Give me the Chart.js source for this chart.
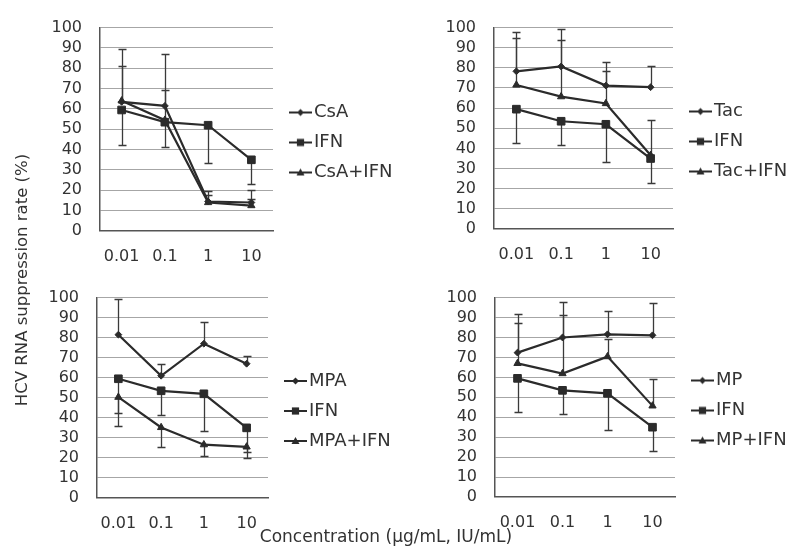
<!DOCTYPE html>
<html>
<head>
<meta charset="utf-8">
<script src="https://cdn.jsdelivr.net/npm/chart.js@4.4.1/dist/chart.umd.min.js"></script>
<style>
  html, body { margin: 0; padding: 0; background: #fff; }
  #wrap { position: relative; width: 798px; height: 549px; background: #fff; overflow: hidden; }
  canvas { position: absolute; }
  .title { position: absolute; font-family: "DejaVu Sans", sans-serif; color: #333; white-space: nowrap; text-align: center; }
</style>
</head>
<body>
<div id="wrap">
  <canvas id="c1" width="400" height="270" style="left:0;top:0;width:400px;height:270px"></canvas>
  <canvas id="c2" width="398" height="270" style="left:400px;top:0;width:398px;height:270px"></canvas>
  <canvas id="c3" width="400" height="279" style="left:0;top:270px;width:400px;height:279px"></canvas>
  <canvas id="c4" width="398" height="279" style="left:400px;top:270px;width:398px;height:279px"></canvas>
  <div class="title" id="ytitle" style="left:-128px;top:270px;width:300px;line-height:20px;font-size:16.5px;transform:rotate(-90deg);transform-origin:center center;">HCV RNA suppression rate (%)</div>
  <div class="title" id="xtitle" style="left:236px;top:526px;width:300px;line-height:20px;font-size:17px;">Concentration (µg/mL, IU/mL)</div>
</div>
<script>
// ---- data ----
const categories = ['0.01', '0.1', '1', '10'];

const ifnValues = [59.5, 53.5, 52, 35];
const ifnErrors = [17, 12, 18.5, 12];          // drawn downward

const csaValues = [63.5, 61.5, 14.5, 14];
const csaErrors = [26, 25.7, 5, 6];             // upward
const csaIfnValues = [64, 54.5, 14, 12.5];
const csaIfnErrors = [17, 15, 3.5, 3];          // upward

const tacValues = [78.3, 80.7, 71.2, 70.4];
const tacErrors = [19.7, 18.8, 11.8, 10.3];     // upward
const tacIfnValues = [71.5, 65.7, 62.3, 36.6];
const tacIfnErrors = [23.3, 28, 16, 17.4];      // upward

const mpaValues = [81.5, 61, 77, 67];
const mpaErrors = [18, 5.7, 11, 3.8];           // upward
const mpaIfnValues = [50.3, 35.2, 26.6, 25.5];
const mpaIfnErrors = [14.3, 10, 5.6, 5.5];      // downward

const mpValues = [72.4, 80, 81.6, 81.1];
const mpErrors = [19.3, 17.6, 11.6, 16.2];      // upward
const mpIfnValues = [67, 61.9, 70.4, 45.7];
const mpIfnErrors = [20.1, 29.4, 8.6, 13.3];    // upward

const yMin = 0, yMax = 100, yStep = 10;

// ---- styling helpers ----
const INK = '#2b2b2b';
const FONT = '"DejaVu Sans", sans-serif';

const markerSpec = {
  rectRot: { r: 3.4 },
  rect: { r: 5.4 },
  triangle: { r: 4.2 }
};

function makeSymbol(style) {
  const c = document.createElement('canvas');
  c.width = 34; c.height = 14;
  const g = c.getContext('2d');
  g.strokeStyle = INK; g.fillStyle = INK; g.lineWidth = 2;
  g.beginPath(); g.moveTo(11, 7); g.lineTo(34, 7); g.stroke();
  const cx = 22.5, cy = 7;
  g.beginPath();
  if (style === 'rectRot') {
    g.moveTo(cx, cy - 3.5); g.lineTo(cx + 3.5, cy); g.lineTo(cx, cy + 3.5); g.lineTo(cx - 3.5, cy);
  } else if (style === 'rect') {
    g.rect(cx - 3.6, cy - 3.6, 7.2, 7.2);
  } else {
    g.moveTo(cx, cy - 4); g.lineTo(cx + 4, cy + 3); g.lineTo(cx - 4, cy + 3);
  }
  g.closePath(); g.fill();
  return c;
}

function series(label, data, marker, errors, dir) {
  return {
    label, data,
    borderColor: INK, backgroundColor: INK,
    borderWidth: 2.2, tension: 0,
    pointStyle: marker, pointRadius: markerSpec[marker].r, pointHoverRadius: markerSpec[marker].r,
    pointBorderWidth: 1, pointBackgroundColor: INK, pointBorderColor: INK,
    errors, errorDir: dir
  };
}

const errorBarPlugin = {
  id: 'errorBars',
  beforeDatasetsDraw(chart) {
    const { ctx } = chart;
    const x = chart.scales.x, y = chart.scales.y;
    ctx.save();
    ctx.strokeStyle = '#3a3a3a';
    ctx.lineWidth = 1.3;
    chart.data.datasets.forEach(d => {
      if (!d.errors) return;
      d.errors.forEach((e, j) => {
        const px = Math.round(x.getPixelForValue(j)) + 0.5;
        const y0 = y.getPixelForValue(d.data[j]);
        const y1 = Math.round(y.getPixelForValue(Math.min(yMax, Math.max(yMin, d.data[j] + d.errorDir * e)))) + 0.5;
        ctx.beginPath();
        ctx.moveTo(px, y0); ctx.lineTo(px, y1);
        ctx.moveTo(px - 4, y1); ctx.lineTo(px + 4, y1);
        ctx.stroke();
      });
    });
    ctx.restore();
  }
};

function makePanel(id, datasets, target) {
  const pad = { left: 10, right: 10, top: 15, bottom: 5 };
  const chart = new Chart(document.getElementById(id), {
    type: 'line',
    data: { labels: categories, datasets },
    options: {
      responsive: false,
      animation: false,
      events: [],
      layout: { padding: pad },
      plugins: {
        tooltip: { enabled: false },
        legend: {
          position: 'right',
          align: 'center',
          fullSize: false,
          title: { display: true, text: ' ', font: { size: 12, lineHeight: 1.2 }, padding: { top: 6, bottom: 6 } },
          labels: {
            usePointStyle: true,
            pointStyleWidth: 20,
            padding: 12,
            color: '#333',
            font: { family: FONT, size: 18 },
            generateLabels(ch) {
              return ch.data.datasets.map((d, i) => ({
                text: d.label,
                pointStyle: makeSymbol(d.pointStyle),
                fillStyle: INK, strokeStyle: INK, lineWidth: 0,
                hidden: false, datasetIndex: i, fontColor: '#333'
              }));
            }
          }
        }
      },
      scales: {
        x: {
          type: 'category',
          offset: true,
          grid: { display: false, drawTicks: false },
          border: { display: true, color: '#555', width: 1.5 },
          ticks: { color: '#333', font: { family: FONT, size: 16 }, padding: 16, maxRotation: 0, autoSkip: false }
        },
        y: {
          min: yMin, max: yMax,
          grid: { color: '#a6a6a6', lineWidth: 1.1, drawTicks: false },
          border: { display: true, color: '#555', width: 1.5 },
          ticks: { stepSize: yStep, autoSkip: false, color: '#333', font: { family: FONT, size: 16 }, padding: 18 }
        }
      }
    },
    plugins: [errorBarPlugin]
  });
  // let the legend take the width its labels need (the layout otherwise caps it)
  const lg = chart.legend;
  const origUpdate = lg.update.bind(lg);
  lg.update = (maxWidth, maxHeight, margins) => origUpdate(Math.max(maxWidth, 180), maxHeight, margins);
  chart.update('none');
  for (let k = 0; k < 4; k++) {
    const a = chart.chartArea;
    pad.left += target.left - a.left;
    pad.top += target.top - a.top;
    pad.right += a.right - target.right;
    pad.bottom += a.bottom - target.bottom;
    chart.update('none');
  }
  return chart;
}

makePanel('c1', [
  series('CsA', csaValues, 'rectRot', csaErrors, 1),
  series('IFN', ifnValues, 'rect', ifnErrors, -1),
  series('CsA+IFN', csaIfnValues, 'triangle', csaIfnErrors, 1)
], { left: 100, right: 273, top: 22, bottom: 231 });

makePanel('c2', [
  series('Tac', tacValues, 'rectRot', tacErrors, 1),
  series('IFN', ifnValues, 'rect', ifnErrors, -1),
  series('Tac+IFN', tacIfnValues, 'triangle', tacIfnErrors, 1)
], { left: 94, right: 273, top: 17, bottom: 229 });

makePanel('c3', [
  series('MPA', mpaValues, 'rectRot', mpaErrors, 1),
  series('IFN', ifnValues, 'rect', ifnErrors, -1),
  series('MPA+IFN', mpaIfnValues, 'triangle', mpaIfnErrors, -1)
], { left: 97, right: 268, top: 15, bottom: 228 });

makePanel('c4', [
  series('MP', mpValues, 'rectRot', mpErrors, 1),
  series('IFN', ifnValues, 'rect', ifnErrors, -1),
  series('MP+IFN', mpIfnValues, 'triangle', mpIfnErrors, 1)
], { left: 95, right: 275, top: 15, bottom: 227 });
</script>
</body>
</html>
